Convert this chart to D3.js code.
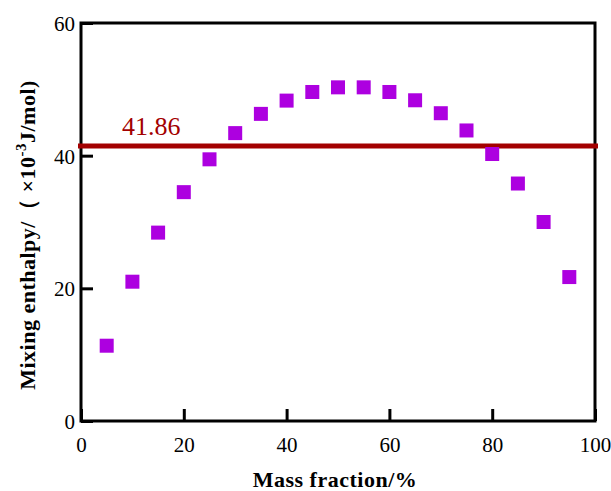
<!DOCTYPE html>
<html lang="en">
<head>
    <meta charset="UTF-8">
    <title>Mixing enthalpy vs mass fraction</title>
    <style>
        body { margin: 0; background: #fff; }
        svg text { font-family: "Liberation Serif", "DejaVu Serif", serif; }
        .axis-title { font-weight: bold; font-size: 22px; letter-spacing: 0.5px; }
    </style>
</head>
<body>
    <svg id="chart" width="611" height="491"></svg>

    <script src="https://d3js.org/d3.v7.min.js"></script>
    <script>
        // data
        const massFraction = [5, 10, 15, 20, 25, 30, 35, 40, 45, 50, 55, 60, 65, 70, 75, 80, 85, 90, 95];
        const enthalpy = [11.35, 21.0, 28.4, 34.5, 39.45, 43.4, 46.3, 48.3, 49.6, 50.3, 50.3, 49.6, 48.35, 46.4, 43.8, 40.25, 35.8, 30.0, 21.7];
        const xTicks = [0, 20, 40, 60, 80, 100];
        const yTicks = [0, 20, 40, 60];
        const refLineValue = 41.45;
        const refLineLabel = "41.86";

        const svg = d3.select("#chart");
        const margin = { top: 23, right: 16, bottom: 70, left: 81 };
        const width = 611 - margin.left - margin.right;
        const height = 491 - margin.top - margin.bottom;

        const x = d3.scaleLinear().domain([0, 100]).range([0, width]);
        const y = d3.scaleLinear().domain([0, 60]).range([height, 0]);

        const g = svg.append("g")
            .attr("transform", `translate(${margin.left},${margin.top})`);

        // bottom axis (ticks point inward)
        const xAxis = g.append("g")
            .attr("transform", `translate(0,${height})`)
            .call(d3.axisBottom(x).tickValues(xTicks).tickSizeInner(-12).tickSizeOuter(0).tickPadding(16));
        // left axis
        const yAxis = g.append("g")
            .call(d3.axisLeft(y).tickValues(yTicks).tickSizeInner(-12).tickSizeOuter(0).tickPadding(6));

        [xAxis, yAxis].forEach(ax => {
            ax.select(".domain").remove();
            ax.selectAll("line").attr("stroke", "#000").attr("stroke-width", 3);
            ax.selectAll("text")
                .attr("fill", "#000")
                .style("font-size", "21px")
                .style("font-family", "'Liberation Serif', serif");
        });
        yAxis.selectAll("text").attr("dy", "0.35em");

        // frame
        g.append("rect")
            .attr("x", 0).attr("y", 0)
            .attr("width", width).attr("height", height)
            .attr("fill", "none")
            .attr("stroke", "#000")
            .attr("stroke-width", 3);

        // reference line
        g.append("line")
            .attr("x1", -3).attr("x2", width + 3)
            .attr("y1", y(refLineValue)).attr("y2", y(refLineValue))
            .attr("stroke", "#a30000")
            .attr("stroke-width", 5);

        g.append("text")
            .attr("x", x(8))
            .attr("y", y(refLineValue) - 11)
            .attr("fill", "#a30000")
            .style("font-size", "26px")
            .text(refLineLabel);

        // markers
        const size = 14;
        g.selectAll(".pt")
            .data(massFraction.map((m, i) => ({ m, v: enthalpy[i] })))
            .enter().append("rect")
            .attr("class", "pt")
            .attr("x", d => x(d.m) - size / 2)
            .attr("y", d => y(d.v) - size / 2)
            .attr("width", size)
            .attr("height", size)
            .attr("fill", "#ad00e0");

        // axis titles
        svg.append("text")
            .attr("class", "axis-title")
            .attr("x", margin.left + width / 2 - 3)
            .attr("y", 487)
            .attr("text-anchor", "middle")
            .text("Mass fraction/%");

        const yTitle = svg.append("text")
            .attr("class", "axis-title")
            .attr("transform", `translate(35,${margin.top + height / 2 + 13}) rotate(-90)`)
            .attr("text-anchor", "middle");
        yTitle.append("tspan").text("Mixing enthalpy/（ ×10");
        yTitle.append("tspan").attr("dy", -9).style("font-size", "15px").text("-3");
        yTitle.append("tspan").attr("dy", 9).text("J/mol)");
    </script>
</body>
</html>
